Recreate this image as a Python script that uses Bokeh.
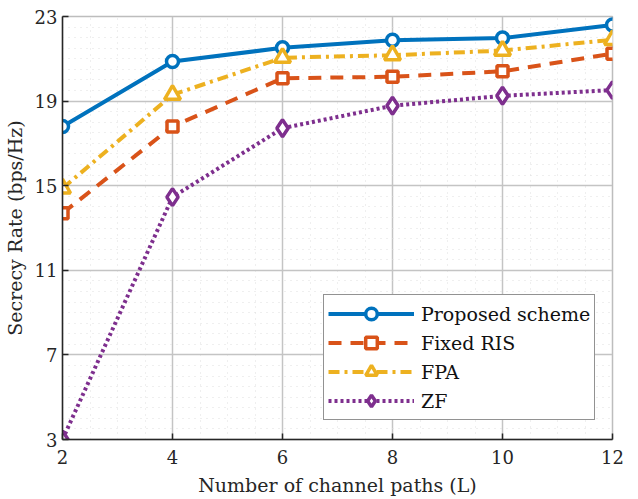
from bokeh.plotting import figure
from bokeh.models import Legend, LegendItem, FixedTicker
from bokeh.embed import file_html
from bokeh.resources import INLINE

# Number of channel paths L
paths = [2, 4, 6, 8, 10, 12]

# Secrecy rate (bps/Hz) for each scheme
proposed = [17.8, 20.87, 21.52, 21.88, 21.98, 22.6]
fixed_ris = [13.7, 17.8, 20.08, 20.15, 20.41, 21.24]
fpa = [14.87, 19.3, 21.05, 21.17, 21.39, 21.9]
zf = [3.0, 14.46, 17.72, 18.78, 19.25, 19.52]

x_ticks = [2, 4, 6, 8, 10, 12]
y_ticks = [3, 7, 11, 15, 19, 23]

FONT = "DejaVu Serif"

p = figure(width=638, height=499, x_range=(2, 12), y_range=(3, 23),
           output_backend="svg", toolbar_location=None,
           min_border_left=61, min_border_right=26,
           min_border_top=16, min_border_bottom=60)
p.background_fill_color = "white"
p.border_fill_color = "white"
p.outline_line_color = "#bdbdbd"
p.outline_line_width = 1.5

# ticks and grids
x_minor = [2 + 0.5 * i for i in range(21)]
y_minor = [3 + 0.5 * i for i in range(41)]
p.xaxis.ticker = FixedTicker(ticks=x_ticks, minor_ticks=x_minor)
p.yaxis.ticker = FixedTicker(ticks=y_ticks, minor_ticks=y_minor)

for g in (p.xgrid, p.ygrid):
    g.grid_line_color = "#c4c4c4"
    g.grid_line_width = 1.5
    g.minor_grid_line_color = "#dedede"
    g.minor_grid_line_width = 1
    g.minor_grid_line_dash = "1 5"

for ax in (p.xaxis, p.yaxis):
    ax.axis_line_color = "#262626"
    ax.axis_line_width = 1.5
    ax.major_tick_line_color = "#262626"
    ax.major_tick_line_width = 1.5
    ax.major_tick_in = 6
    ax.major_tick_out = 0
    ax.minor_tick_in = 0
    ax.minor_tick_out = 0
    ax.major_label_text_font = FONT
    ax.major_label_text_font_size = "18px"
    ax.major_label_text_color = "#262626"
    ax.axis_label_text_font = FONT
    ax.axis_label_text_font_size = "19px"
    ax.axis_label_text_font_style = "normal"
    ax.axis_label_text_color = "#262626"

p.xaxis.major_label_standoff = 10
p.xaxis.axis_label_standoff = 7
p.yaxis.major_label_standoff = 5
p.yaxis.axis_label_standoff = 6
p.xaxis.axis_label = "Number of channel paths (L)"
p.yaxis.axis_label = "Secrecy Rate (bps/Hz)"

LW = 4
series = [
    ("Proposed scheme", proposed, "#0072BD", "solid", "circle", 12),
    ("Fixed RIS", fixed_ris, "#D95319", "13 9", "square", 11),
    ("FPA", fpa, "#EDB120", "11 5 3 5", "triangle", 16),
    ("ZF", zf, "#7E2F8E", "3 3", "diamond", 17),
]

items = []
for name, ys, color, dash, marker, size in series:
    ln = p.line(paths, ys, line_color=color, line_width=LW, line_dash=dash)
    sc = p.scatter(paths, ys, marker=marker, size=size, line_color=color,
                   line_width=3.5, fill_color="white")
    items.append(LegendItem(label=name, renderers=[ln, sc]))

legend = Legend(items=items, location=(261, 19))
legend.glyph_width = 86
legend.glyph_height = 29
legend.label_height = 29
legend.spacing = 0
legend.padding = 4
legend.margin = 0
legend.label_standoff = 7
legend.label_text_font = FONT
legend.label_text_font_size = "19px"
legend.label_text_color = "#111111"
legend.border_line_color = "#262626"
legend.border_line_width = 1.5
legend.background_fill_color = "white"
legend.background_fill_alpha = 1.0
p.add_layout(legend)

open("out.html", "w").write(file_html(p, INLINE))
